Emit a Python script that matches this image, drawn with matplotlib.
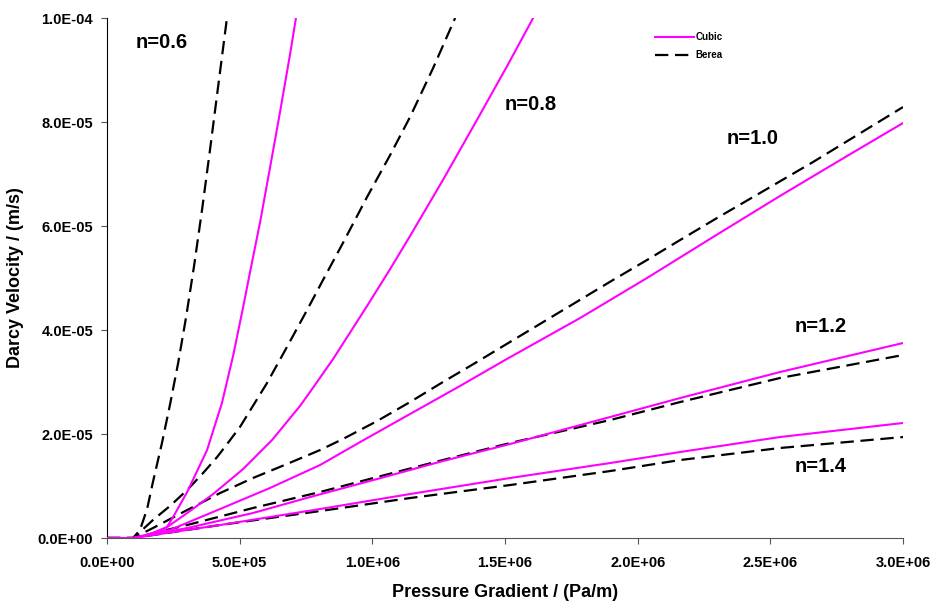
#!/usr/bin/python3

import matplotlib
matplotlib.use("Agg")
import matplotlib.pyplot as plt
from matplotlib.ticker import FuncFormatter

plt.rcParams['font.family'] = ['Liberation Sans', 'DejaVu Sans']

# values: x in 1E+06 Pa/m, y in 1E-05 m/s
cubic_06_x = [0.0, 0.098, 0.162, 0.226, 0.249, 0.302, 0.377, 0.433, 0.475, 0.513, 0.539, 0.577, 0.614, 0.652, 0.690, 0.712]
cubic_06_y = [0.0, 0.0, 0.077, 0.212, 0.404, 0.885, 1.692, 2.596, 3.5, 4.442, 5.115, 6.077, 7.115, 8.192, 9.308, 10.0]
berea_06_x = [0.0, 0.098, 0.124, 0.151, 0.173, 0.207, 0.237, 0.268, 0.298, 0.328, 0.358, 0.388, 0.418, 0.452]
berea_06_y = [0.0, 0.0, 0.154, 0.558, 1.077, 1.827, 2.558, 3.365, 4.25, 5.231, 6.308, 7.462, 8.654, 10.0]

cubic_08_x = [0.0, 0.098, 0.162, 0.211, 0.302, 0.400, 0.513, 0.622, 0.727, 0.765, 0.852, 0.980, 1.067, 1.142, 1.266, 1.394, 1.508, 1.606]
cubic_08_y = [0.0, 0.0, 0.058, 0.154, 0.481, 0.846, 1.327, 1.885, 2.538, 2.808, 3.442, 4.462, 5.173, 5.808, 6.885, 8.038, 9.077, 10.0]
berea_08_x = [0.0, 0.098, 0.124, 0.173, 0.237, 0.302, 0.362, 0.415, 0.464, 0.501, 0.603, 0.678, 0.754, 0.814, 0.889, 0.980, 1.067, 1.142, 1.229, 1.312]
berea_08_y = [0.0, 0.0, 0.115, 0.346, 0.615, 0.923, 1.25, 1.558, 1.885, 2.135, 2.981, 3.673, 4.385, 4.962, 5.673, 6.558, 7.365, 8.096, 9.038, 10.0]

cubic_10_x = [0.0, 0.098, 0.237, 0.426, 0.614, 0.803, 0.954, 1.142, 1.330, 1.500, 1.783, 2.035, 2.284, 2.536, 2.789, 3.000]
cubic_10_y = [0.0, 0.0, 0.154, 0.558, 0.962, 1.404, 1.846, 2.385, 2.923, 3.423, 4.231, 5.0, 5.788, 6.577, 7.346, 7.981]
berea_10_x = [0.0, 0.098, 0.173, 0.302, 0.426, 0.550, 0.678, 0.803, 0.889, 1.018, 1.142, 1.266, 1.394, 1.481, 1.794, 1.907, 2.035, 2.160, 2.299, 2.461, 2.661, 3.000]
berea_10_y = [0.0, 0.0, 0.192, 0.538, 0.865, 1.154, 1.423, 1.692, 1.904, 2.25, 2.615, 3.0, 3.385, 3.654, 4.615, 4.962, 5.346, 5.731, 6.154, 6.635, 7.231, 8.288]

cubic_12_x = [0.0, 0.098, 0.302, 0.550, 0.765, 1.018, 1.266, 1.519, 1.896, 2.160, 2.536, 3.000]
cubic_12_y = [0.0, 0.0, 0.192, 0.481, 0.788, 1.135, 1.481, 1.808, 2.327, 2.692, 3.192, 3.75]
berea_12_x = [0.0, 0.098, 0.302, 0.550, 0.803, 1.018, 1.266, 1.519, 1.896, 2.160, 2.536, 3.000]
berea_12_y = [0.0, 0.0, 0.25, 0.577, 0.885, 1.173, 1.5, 1.827, 2.269, 2.615, 3.077, 3.519]

cubic_14_x = [0.0, 0.098, 0.426, 0.803, 1.142, 1.519, 1.896, 2.160, 2.536, 3.000]
cubic_14_y = [0.0, 0.0, 0.25, 0.558, 0.846, 1.154, 1.442, 1.654, 1.942, 2.212]
berea_14_x = [0.0, 0.098, 0.426, 0.803, 1.142, 1.519, 1.896, 2.160, 2.536, 3.000]
berea_14_y = [0.0, 0.0, 0.25, 0.519, 0.769, 1.019, 1.288, 1.5, 1.731, 1.942]

x_ticks = [0.0, 0.5e6, 1.0e6, 1.5e6, 2.0e6, 2.5e6, 3.0e6]
y_ticks = [0.0, 2e-5, 4e-5, 6e-5, 8e-5, 1e-4]

# label text and where it sits (x in 1E+06, y in 1E-05)
n_labels = ["n=0.6", "n=0.8", "n=1.0", "n=1.2", "n=1.4"]
n_label_x = [0.106, 1.50, 2.337, 2.593, 2.593]
n_label_y = [9.52, 8.33, 7.69, 4.06, 1.38]


def sci(v, pos):
    return "%.1E" % v


def main():
    fig = plt.figure(figsize=(9.34, 6.05), dpi=100)
    ax = fig.add_axes([0.1146, 0.1107, 0.8522, 0.8595])

    cubics = [(cubic_06_x, cubic_06_y), (cubic_08_x, cubic_08_y), (cubic_10_x, cubic_10_y),
              (cubic_12_x, cubic_12_y), (cubic_14_x, cubic_14_y)]
    bereas = [(berea_06_x, berea_06_y), (berea_08_x, berea_08_y), (berea_10_x, berea_10_y),
              (berea_12_x, berea_12_y), (berea_14_x, berea_14_y)]

    for i, (bx, by) in enumerate(bereas):
        ax.plot([v * 1e6 for v in bx], [v * 1e-5 for v in by], color='black', lw=1.6,
                ls=(0, (6, 3)), label="Berea" if i == 0 else None, zorder=2)
    for i, (cx, cy) in enumerate(cubics):
        ax.plot([v * 1e6 for v in cx], [v * 1e-5 for v in cy], color='#ff00ff', lw=1.5,
                label="Cubic" if i == 0 else None, zorder=3)

    for t, lx, ly in zip(n_labels, n_label_x, n_label_y):
        ax.text(lx * 1e6, ly * 1e-5, t, fontsize=14.5, fontweight='bold', ha='left', va='center')

    ax.set_xlim(0, 3.0e6)
    ax.set_ylim(0, 1e-4)
    ax.set_xticks(x_ticks)
    ax.set_yticks(y_ticks)
    ax.xaxis.set_major_formatter(FuncFormatter(sci))
    ax.yaxis.set_major_formatter(FuncFormatter(sci))
    for lab in ax.get_xticklabels() + ax.get_yticklabels():
        lab.set_fontweight('bold')
        lab.set_fontsize(10.5)
    ax.tick_params(direction='out', length=4, width=0.8, color='#555555', pad=6)
    ax.tick_params(axis='x', pad=9)
    ax.spines['top'].set_visible(False)
    ax.spines['right'].set_visible(False)
    ax.spines['left'].set_color('black')
    ax.spines['bottom'].set_color('#555555')

    ax.set_xlabel("Pressure Gradient / (Pa/m)", fontsize=13, fontweight='bold', labelpad=10)
    ax.set_ylabel("Darcy Velocity / (m/s)", fontsize=13, fontweight='bold', labelpad=10)

    # legend up in the corner, no frame
    h, l = ax.get_legend_handles_labels()
    order = [l.index("Cubic"), l.index("Berea")]
    ax.legend([h[o] for o in order], [l[o] for o in order], loc='upper left',
              bbox_to_anchor=(0.678, 0.99), frameon=False, handlelength=4.0,
              handletextpad=0.1, labelspacing=0.85,
              prop={'size': 7, 'weight': 'bold'})

    fig.savefig("out.png", dpi=100)


if __name__ == "__main__":
    main()
